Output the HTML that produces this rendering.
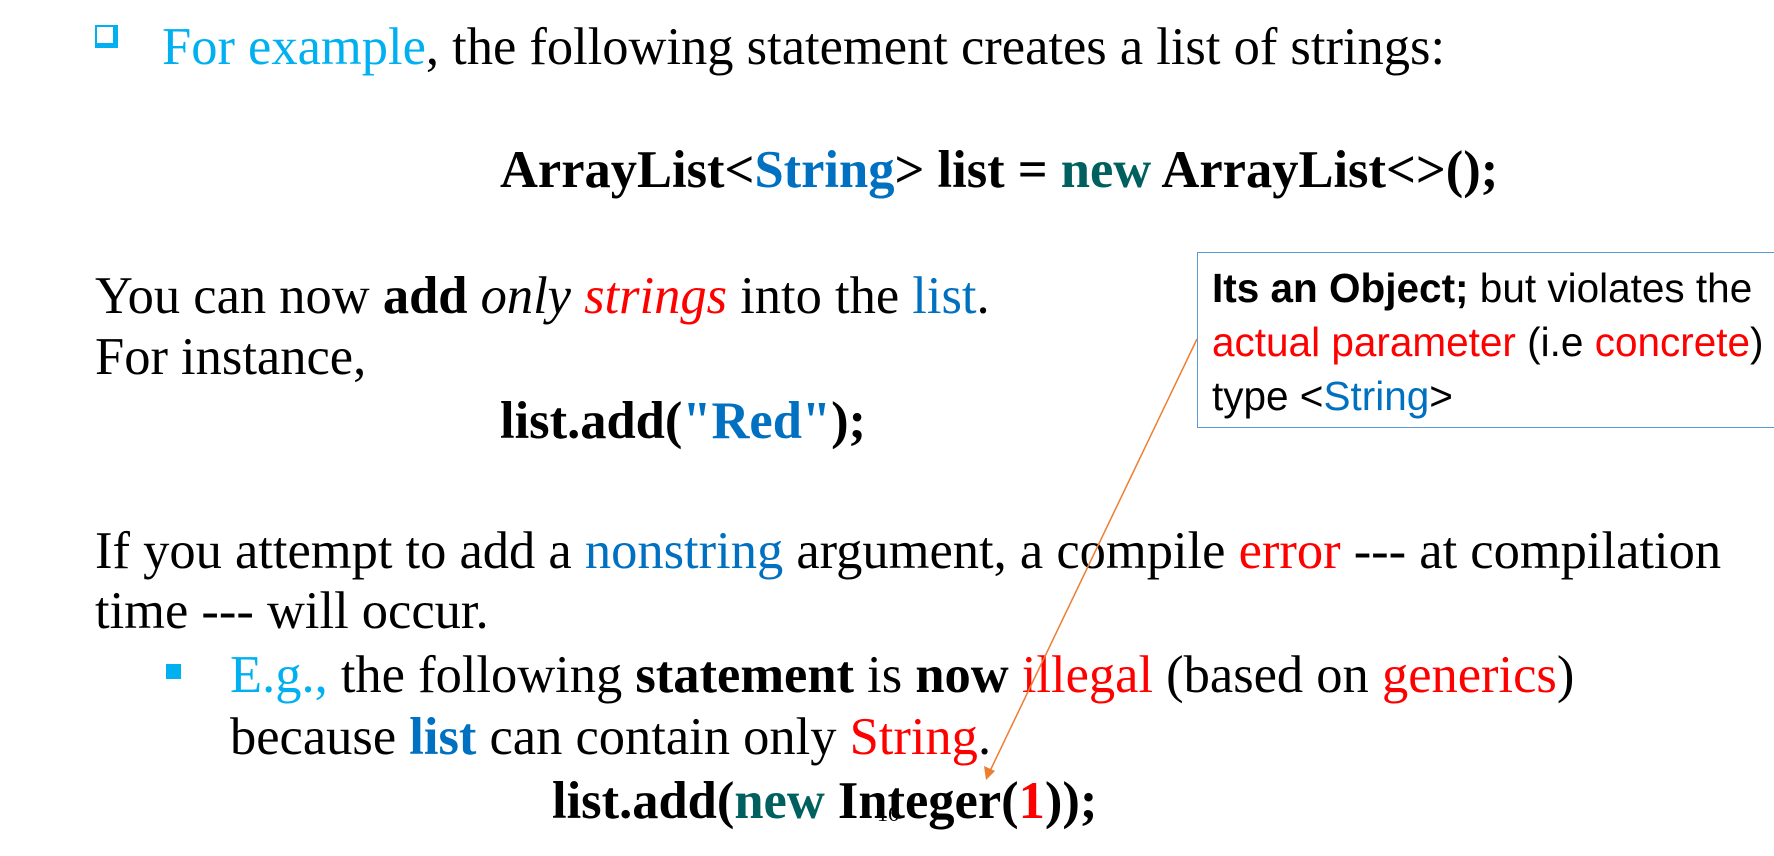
<!DOCTYPE html>
<html><head><meta charset="utf-8"><style>
body{margin:0;width:1774px;height:856px;background:#fff;position:relative;overflow:hidden;font-family:"Liberation Serif",serif;font-size:52.5px;color:#000}
.t{position:absolute;white-space:nowrap;line-height:56px}
.c{color:#00b0f0}.b{color:#0070c0}.r{color:#ff0000}.g{color:#006060}
.box{position:absolute;left:1197px;top:252px;width:700px;height:176px;border:1.5px solid #5b9bd5;background:#fff;font-family:"Liberation Sans",sans-serif;font-size:40.5px;line-height:54px;box-sizing:border-box;padding:8px 0 0 14px;white-space:nowrap}
</style></head><body>
<div style="position:absolute;left:95px;top:25px;width:16px;height:16px;border:2px solid #00b0f0;border-right-width:5px;border-bottom-width:5px"></div>
<div class="t" style="left:162px;top:19px"><span class="c">For example</span>, the following statement creates a list of strings:</div>
<div class="t" style="left:500px;top:142px;font-weight:bold">ArrayList&lt;<span class="b">String</span>&gt; list = <span class="g">new</span> ArrayList&lt;&gt;();</div>
<div class="t" style="left:95px;top:268px">You can now <b>add</b> <i>only</i> <i class="r">strings</i> into the <span class="b">list</span>.</div>
<div class="t" style="left:95px;top:329px">For instance,</div>
<div class="t" style="left:500px;top:393px;font-weight:bold">list.add(<span class="b">"Red"</span>);</div>
<div class="t" style="left:95px;top:523px">If you attempt to add a <span class="b">nonstring</span> argument, a compile <span class="r">error</span> --- at compilation</div>
<div class="t" style="left:95px;top:583px">time --- will occur.</div>
<div style="position:absolute;left:166px;top:664px;width:15px;height:15px;background:#00b0f0"></div>
<div class="t" style="left:230px;top:647px"><span class="c">E.g.,</span> the following <b>statement</b> is <b>now</b> <span class="r">illegal</span> (based on <span class="r">generics</span>)</div>
<div class="t" style="left:230px;top:709px">because <b class="b">list</b> can contain only <span class="r">String</span>.</div>
<div class="t" style="left:552px;top:773px;font-weight:bold">list.add(<span class="g">new</span> Integer(<span class="r">1</span>));</div>
<div class="t" style="left:877px;top:803px;font-size:22px;line-height:22px">16</div>
<div class="box"><b>Its an Object;</b> but violates the<br><span class="r">actual parameter</span> (i.e <span class="r">concrete</span>)<br>type &lt;<span class="b">String</span>&gt;</div>
<svg style="position:absolute;left:0;top:0" width="1774" height="856">
<line x1="1197" y1="339" x2="990" y2="771" stroke="#ed7d31" stroke-width="1.5"/>
<polygon points="986,780 984,766 995,771" fill="#ed7d31"/>
</svg>
</body></html>
